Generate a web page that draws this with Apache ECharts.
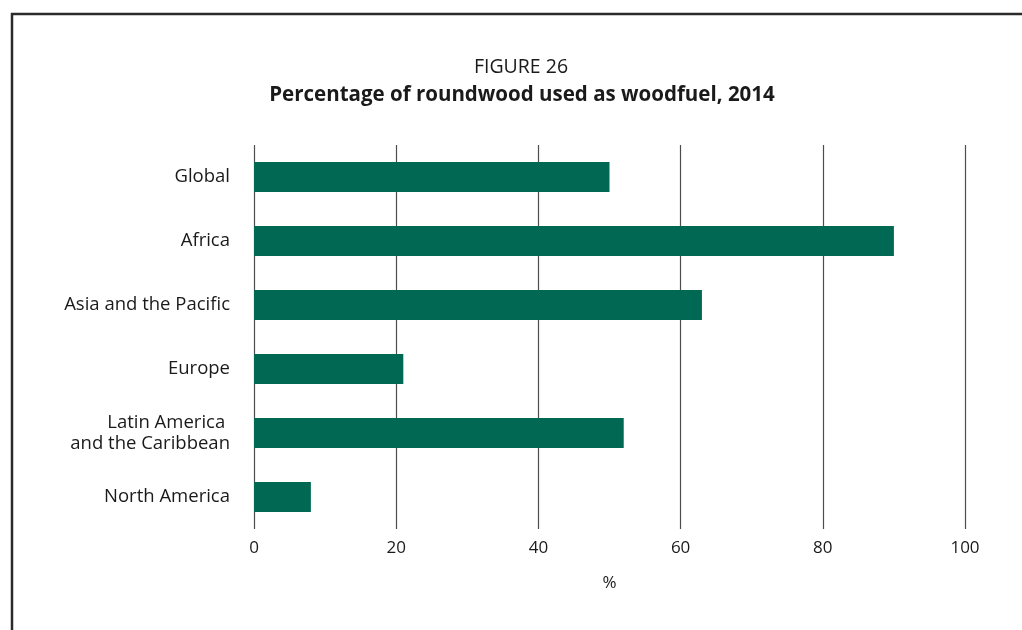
<!DOCTYPE html>
<html>
<head>
<meta charset="utf-8">
<script src="https://cdn.jsdelivr.net/npm/echarts@6/dist/echarts.min.js"></script>
<style>
  html, body { margin: 0; padding: 0; background: #fff; }
  #chart { width: 1022px; height: 630px; }
</style>
</head>
<body>
<div id="chart"></div>
<script>
// Regions and share of roundwood used as woodfuel (%)
const regions = ['Global', 'Africa', 'Asia and the Pacific', 'Europe', 'Latin America \nand the Caribbean', 'North America'];
const woodfuelShare = [50, 90, 63, 21, 52, 8];
const axisTicks = [0, 20, 40, 60, 80, 100];

const FONT = '"Open Sans", "Noto Sans", sans-serif';
const chart = echarts.init(document.getElementById('chart'));

chart.setOption({
  backgroundColor: '#ffffff',
  animation: false,
  title: [
    {
      text: 'FIGURE 26',
      left: 516, top: 52, textAlign: 'center',
      textStyle: { fontFamily: FONT, fontSize: 19.5, fontWeight: 'normal', color: '#1a1a1a' }
    },
    {
      text: 'Percentage of roundwood used as woodfuel, 2014',
      left: 517, top: 80, textAlign: 'center',
      textStyle: { fontFamily: FONT, fontSize: 20.5, fontWeight: 'bold', color: '#1a1a1a' }
    }
  ],
  grid: { left: 254, right: 57, top: 145, bottom: 101, containLabel: false },
  xAxis: {
    type: 'value',
    min: axisTicks[0],
    max: axisTicks[axisTicks.length - 1],
    interval: axisTicks[1] - axisTicks[0],
    name: '%',
    nameLocation: 'middle',
    nameGap: 46,
    nameTextStyle: { fontFamily: FONT, fontSize: 17, color: '#1a1a1a' },
    axisLine: { show: false },
    axisTick: { show: false },
    axisLabel: { fontFamily: FONT, fontSize: 17, color: '#1a1a1a', margin: 11 },
    splitLine: { show: true, lineStyle: { color: '#4d4d4d', width: 1.2 } }
  },
  yAxis: {
    type: 'category',
    data: regions,
    inverse: true,
    axisLine: { show: false },
    axisTick: { show: false },
    axisLabel: {
      fontFamily: FONT, fontSize: 18.5, color: '#1a1a1a', margin: 24,
      align: 'right', lineHeight: 21
    }
  },
  series: [{
    type: 'bar',
    data: woodfuelShare,
    barWidth: 30,
    itemStyle: { color: '#006853' }
  }],
  graphic: [
    { type: 'line', shape: { x1: 11, y1: 14, x2: 1022, y2: 14 }, style: { stroke: '#2b2b2b', lineWidth: 2.5 } },
    { type: 'line', shape: { x1: 12, y1: 13, x2: 12, y2: 630 }, style: { stroke: '#2b2b2b', lineWidth: 2.5 } }
  ]
});
</script>
</body>
</html>
